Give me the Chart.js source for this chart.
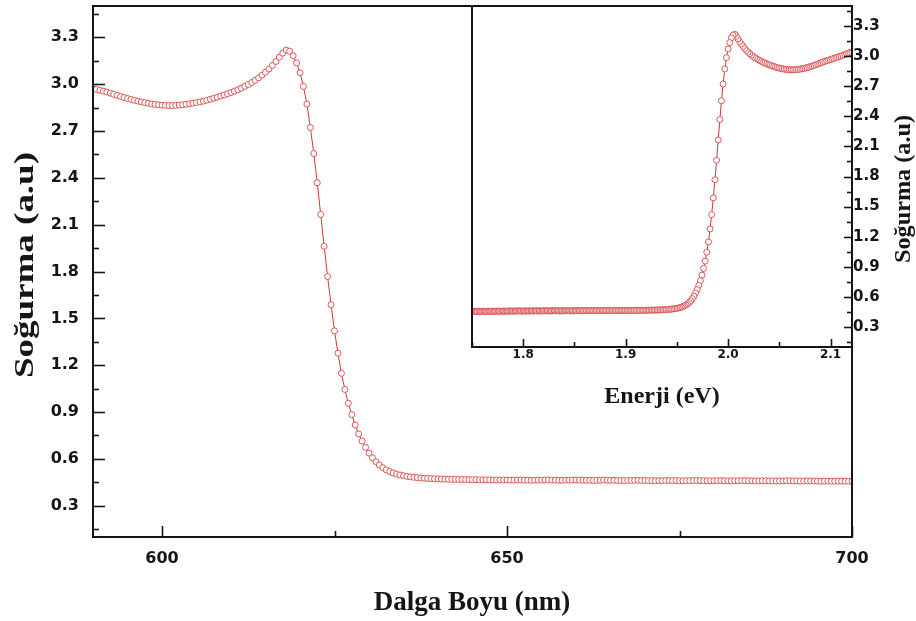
<!DOCTYPE html>
<html>
<head>
<meta charset="utf-8">
<script src="https://cdn.jsdelivr.net/npm/chart.js@4.4.1/dist/chart.umd.min.js"></script>
<style>
  body { margin: 0; background: #fff; }
  #wrap { position: relative; width: 916px; height: 621px; }
  #wrap canvas { position: absolute; left: 0; top: 0; }
  #insetChart { pointer-events: none; }
</style>
</head>
<body>
<div id="wrap">
  <canvas id="mainChart" width="916" height="621"></canvas>
  <canvas id="insetChart" width="916" height="621"></canvas>
</div>
<script>
// spectrum sampled every 0.5 nm starting at 585 nm
const wlStart = 585;
const wlStep = 0.5;

// 585 - 617.5 nm
const absHump = [
  3.040, 3.032, 3.024, 3.017, 3.010, 3.003, 2.997, 2.991, 2.985, 2.978,
  2.972, 2.966, 2.960, 2.955, 2.949, 2.942, 2.935, 2.928, 2.921, 2.914,
  2.908, 2.902, 2.896, 2.891, 2.886, 2.881, 2.877, 2.873, 2.870, 2.867,
  2.865, 2.864, 2.863, 2.863, 2.864, 2.866, 2.868, 2.871, 2.874, 2.878,
  2.882, 2.886, 2.891, 2.897, 2.903, 2.909, 2.916, 2.923, 2.930, 2.938,
  2.946, 2.955, 2.964, 2.974, 2.985, 2.997, 3.010, 3.024, 3.040, 3.057,
  3.076, 3.097, 3.120, 3.145, 3.172, 3.198
];
// 618 - 639.5 nm
const absEdge = [
  3.218, 3.210, 3.182, 3.135,
  3.072, 2.985, 2.872, 2.722, 2.555, 2.368, 2.165, 1.962, 1.768, 1.587,
  1.420, 1.277, 1.148, 1.045, 0.956, 0.884, 0.817, 0.760, 0.714, 0.673,
  0.637, 0.607, 0.582, 0.561, 0.544, 0.530, 0.519, 0.510, 0.503, 0.497,
  0.492, 0.488, 0.485, 0.482, 0.480, 0.478, 0.476, 0.475, 0.474, 0.473
];
// 640 - 710 nm
const absFlat = [
  0.472, 0.471, 0.470, 0.470, 0.469, 0.469, 0.468, 0.468, 0.468, 0.467,
  0.467, 0.467, 0.466, 0.466, 0.466, 0.466, 0.465, 0.465, 0.465, 0.465,
  0.465, 0.464, 0.464, 0.465, 0.465, 0.464, 0.464, 0.463, 0.464, 0.464,
  0.464, 0.465, 0.465, 0.464, 0.464, 0.463, 0.463, 0.464, 0.464, 0.465,
  0.465, 0.464, 0.464, 0.463, 0.463, 0.462, 0.463, 0.463, 0.464, 0.464,
  0.463, 0.463, 0.462, 0.462, 0.461, 0.462, 0.462, 0.463, 0.463, 0.462,
  0.462, 0.461, 0.461, 0.460, 0.461, 0.461, 0.462, 0.462, 0.461, 0.461,
  0.460, 0.460, 0.461, 0.461, 0.462, 0.462, 0.461, 0.461, 0.460, 0.460,
  0.460, 0.461, 0.461, 0.460, 0.460, 0.459, 0.460, 0.460, 0.461, 0.461,
  0.460, 0.460, 0.459, 0.459, 0.460, 0.460, 0.459, 0.459, 0.458, 0.459,
  0.459, 0.460, 0.460, 0.459, 0.459, 0.458, 0.458, 0.459, 0.459, 0.458,
  0.458, 0.457, 0.458, 0.458, 0.457, 0.457, 0.458, 0.458, 0.457, 0.457,
  0.457, 0.456, 0.456, 0.457, 0.457, 0.456, 0.456, 0.455, 0.456, 0.456,
  0.455, 0.455, 0.456, 0.456, 0.455, 0.455, 0.454, 0.455, 0.455, 0.454,
  0.454
];

const absTicks = [0.3, 0.6, 0.9, 1.2, 1.5, 1.8, 2.1, 2.4, 2.7, 3.0, 3.3];
const wlTicks = [600, 650, 700];
const eTicks = [1.8, 1.9, 2.0, 2.1];

const absorbance = absHump.concat(absEdge, absFlat);
const mainPoints = absorbance.map((v, i) => ({ x: wlStart + i * wlStep, y: v }));
// photon energy E = 1240 / lambda
const insetPoints = mainPoints.map(p => ({ x: 1240 / p.x, y: p.y }));

const seriesStyle = {
  showLine: true,
  borderColor: 'rgba(196,38,38,0.9)',
  borderWidth: 1,
  pointRadius: 3,
  pointBorderWidth: 1,
  pointBorderColor: 'rgba(214,72,72,0.9)',
  pointBackgroundColor: '#fff',
  clip: 0
};

const ink = '#151515';

// inward ticks, frame and axis titles, drawn on top of the chart
function makeFrame(cfg) {
  return {
    id: 'frameTicks',
    afterDraw(chart) {
      const ctx = chart.ctx;
      const a = chart.chartArea;
      ctx.save();
      ctx.strokeStyle = ink;
      ctx.lineWidth = 1.6;
      cfg.ticks.forEach(t => {
        const s = chart.scales[t.id];
        const step = t.values[1] - t.values[0];
        const marks = t.values.map(v => [v, t.major]);
        for (let i = -1; i < t.values.length; i++) {
          const v = t.values[0] + (i + 0.5) * step;
          if (v >= s.min - 1e-9 && v <= s.max + 1e-9) marks.push([v, t.minor]);
        }
        marks.forEach(([v, len]) => {
          const p = Math.round(s.getPixelForValue(v)) + 0.5;
          ctx.beginPath();
          if (t.side === 'bottom') {
            ctx.moveTo(p, a.bottom); ctx.lineTo(p, a.bottom - len);
          } else if (t.side === 'left') {
            ctx.moveTo(a.left, p); ctx.lineTo(a.left + len, p);
          } else {
            ctx.moveTo(a.right, p); ctx.lineTo(a.right - len, p);
          }
          ctx.stroke();
        });
      });
      ctx.lineWidth = 2;
      ctx.lineCap = 'square';
      ctx.beginPath();
      cfg.sides.forEach(side => {
        if (side === 'top') { ctx.moveTo(a.left, a.top); ctx.lineTo(a.right, a.top); }
        if (side === 'bottom') { ctx.moveTo(a.left, a.bottom); ctx.lineTo(a.right, a.bottom); }
        if (side === 'left') { ctx.moveTo(a.left, a.top); ctx.lineTo(a.left, a.bottom); }
        if (side === 'right') { ctx.moveTo(a.right, a.top); ctx.lineTo(a.right, a.bottom); }
      });
      ctx.stroke();

      cfg.titles.forEach(t => {
        ctx.save();
        ctx.translate(t.x, t.y);
        if (t.rotate) ctx.rotate(t.rotate);
        ctx.font = t.font;
        ctx.fillStyle = ink;
        ctx.textAlign = 'center';
        ctx.textBaseline = 'alphabetic';
        if (t.stretchTo) {
          const w = ctx.measureText(t.text).width;
          ctx.scale(t.stretchTo / w, 1);
        }
        ctx.fillText(t.text, 0, 0);
        ctx.restore();
      });
      ctx.restore();
    }
  };
}

const fixedTicks = values => s => { s.ticks = values.map(v => ({ value: v })); };
const fixSize = (key, size) => s => {
  s[key] = size;
  s.paddingTop = 0; s.paddingBottom = 0; s.paddingLeft = 0; s.paddingRight = 0;
};
const tickFont = size => ({ family: 'DejaVu Sans', size: size, weight: 'bold' });
const serifBold = size => `bold ${size}px "Liberation Serif", "Times New Roman", serif`;
const noGrid = { display: false, drawTicks: false };

new Chart(document.getElementById('mainChart'), {
  type: 'scatter',
  data: { datasets: [Object.assign({ data: mainPoints }, seriesStyle)] },
  options: {
    responsive: false,
    animation: false,
    events: [],
    layout: { padding: { left: 0, top: 6, right: 64, bottom: 0 } },
    plugins: { legend: { display: false }, tooltip: { enabled: false } },
    scales: {
      x: {
        type: 'linear', min: 590, max: 700,
        grid: noGrid, border: { display: false },
        afterBuildTicks: fixedTicks(wlTicks),
        afterFit: fixSize('height', 84),
        ticks: { font: tickFont(16), color: ink, padding: 12, maxRotation: 0, autoSkip: false,
                 callback: v => String(v) }
      },
      y: {
        type: 'linear', min: 0.1, max: 3.5,
        grid: noGrid, border: { display: false },
        afterBuildTicks: fixedTicks(absTicks),
        afterFit: fixSize('width', 93),
        ticks: { font: tickFont(16), color: ink, padding: 14, autoSkip: false,
                 callback: v => v.toFixed(1) }
      }
    }
  },
  plugins: [makeFrame({
    sides: ['top', 'right', 'bottom', 'left'],
    ticks: [
      { id: 'x', side: 'bottom', values: wlTicks, major: 11, minor: 6 },
      { id: 'y', side: 'left', values: absTicks, major: 12, minor: 6 }
    ],
    titles: [
      { text: 'Dalga Boyu (nm)', x: 472, y: 610, font: serifBold(27) },
      { text: 'Soğurma (a.u)', x: 33, y: 265, rotate: -Math.PI / 2, font: serifBold(27), stretchTo: 226 }
    ]
  })]
});

new Chart(document.getElementById('insetChart'), {
  type: 'scatter',
  data: { datasets: [Object.assign({ data: insetPoints }, seriesStyle)] },
  options: {
    responsive: false,
    animation: false,
    events: [],
    layout: { padding: { left: 472, top: 6, right: 0, bottom: 0 } },
    plugins: { legend: { display: false }, tooltip: { enabled: false } },
    scales: {
      x: {
        type: 'linear', min: 1.75, max: 2.12,
        grid: noGrid, border: { display: false },
        afterBuildTicks: fixedTicks(eTicks),
        afterFit: fixSize('height', 274),
        ticks: { font: tickFont(12), color: ink, padding: 1, maxRotation: 0, autoSkip: false,
                 callback: v => v.toFixed(1) }
      },
      y: {
        type: 'linear', position: 'right', min: 0.1, max: 3.5,
        grid: noGrid, border: { display: false },
        afterBuildTicks: fixedTicks(absTicks),
        afterFit: fixSize('width', 65),
        ticks: { font: tickFont(15), color: ink, padding: 2, autoSkip: false,
                 callback: v => v.toFixed(1) }
      }
    }
  },
  plugins: [makeFrame({
    sides: ['left', 'bottom'],
    ticks: [
      { id: 'x', side: 'bottom', values: eTicks, major: 8, minor: 5 },
      { id: 'y', side: 'right', values: absTicks, major: 7, minor: 4 }
    ],
    titles: [
      { text: 'Enerji (eV)', x: 662, y: 403, font: serifBold(24) },
      { text: 'Soğurma (a.u)', x: 910, y: 189, rotate: -Math.PI / 2, font: serifBold(24), stretchTo: 148 }
    ]
  })]
});
</script>
</body>
</html>
